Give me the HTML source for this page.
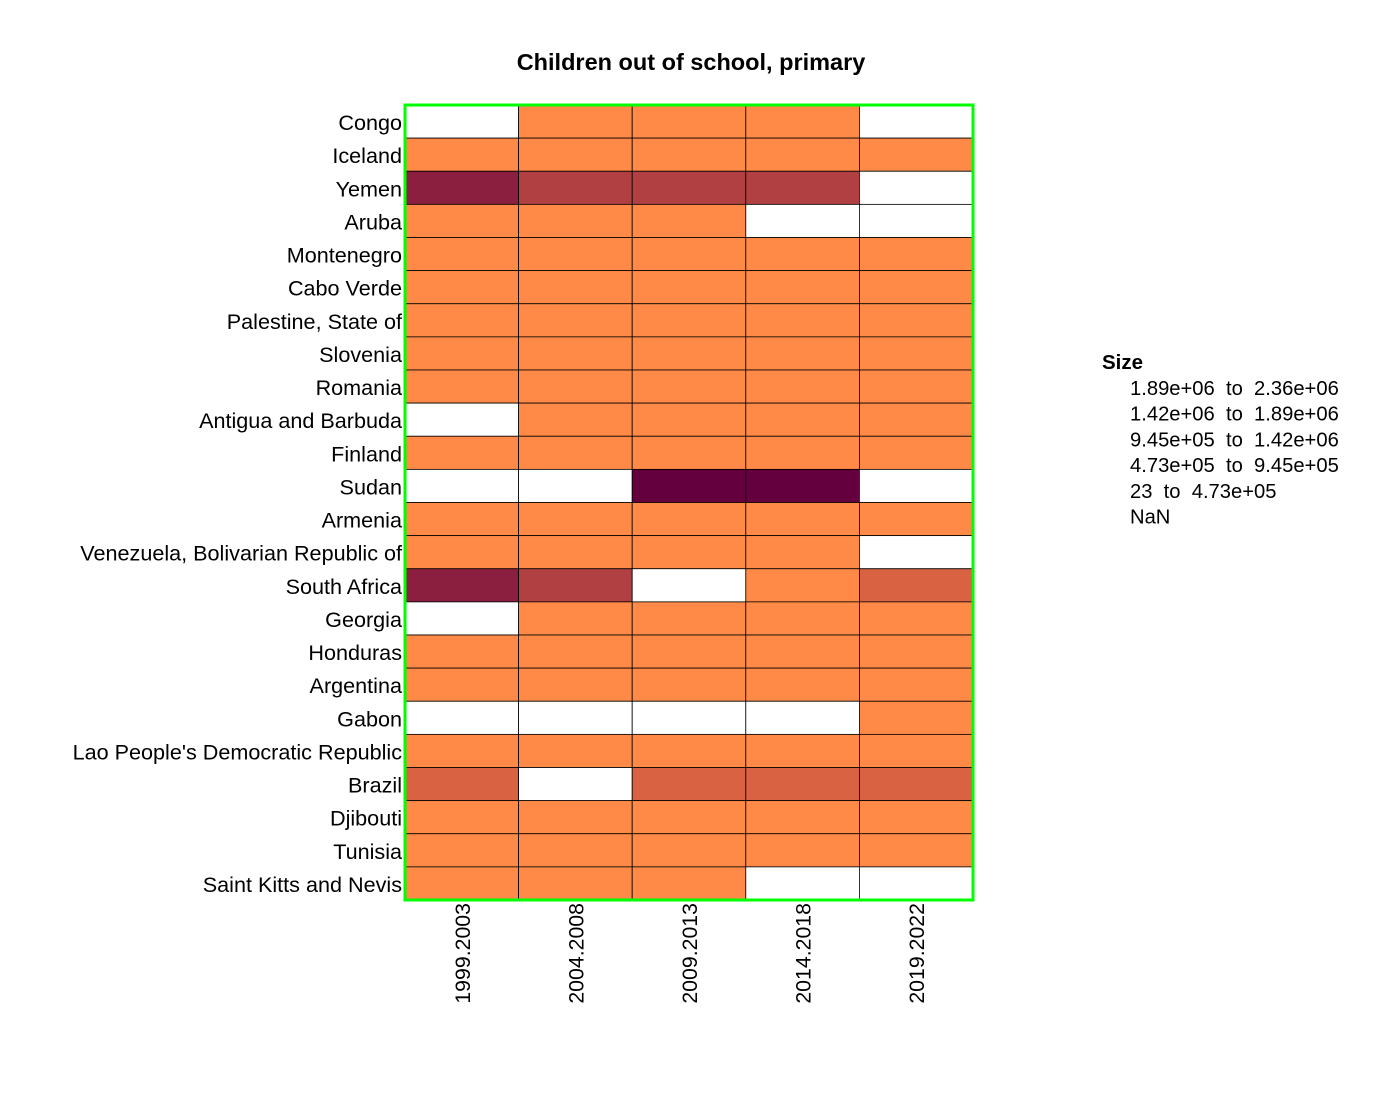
<!DOCTYPE html>
<html><head><meta charset="utf-8"><style>
body{margin:0;background:#fff;}
svg text{font-family:"Liberation Sans",Arial,sans-serif;}
</style></head><body>
<svg id="chart" width="1400" height="1100" xmlns="http://www.w3.org/2000/svg">
<text x="691" y="70" text-anchor="middle" font-size="23.5" font-weight="bold">Children out of school, primary</text>
<g id="cells"></g><g id="ylabels"></g><g id="xlabels"></g>
<rect x="405" y="105" width="568" height="795" fill="none" stroke="#00ff00" stroke-width="3"/>
<g id="legend">
<text x="1102" y="369" font-size="20.5" font-weight="bold">Size</text>
</g>
</svg>
<script>
const countries=["Congo","Iceland","Yemen","Aruba","Montenegro","Cabo Verde","Palestine, State of","Slovenia","Romania","Antigua and Barbuda","Finland","Sudan","Armenia","Venezuela, Bolivarian Republic of","South Africa","Georgia","Honduras","Argentina","Gabon","Lao People's Democratic Republic","Brazil","Djibouti","Tunisia","Saint Kitts and Nevis"];
const periods=["1999.2003","2004.2008","2009.2013","2014.2018","2019.2022"];
const N=NaN;
const values=[
[N,5e4,5e4,5e4,N],
[500,500,500,500,500],
[1.6e6,1.1e6,1.1e6,1.1e6,N],
[300,300,300,N,N],
[2e3,2e3,2e3,2e3,2e3],
[2e3,2e3,2e3,2e3,2e3],
[3e4,3e4,3e4,3e4,3e4],
[1e3,1e3,1e3,1e3,1e3],
[3e4,3e4,3e4,3e4,3e4],
[N,1e3,1e3,1e3,1e3],
[2e3,2e3,2e3,2e3,2e3],
[N,N,2.1e6,2.1e6,N],
[1e4,1e4,1e4,1e4,1e4],
[2e5,2e5,2e5,2e5,N],
[1.6e6,1.1e6,N,2e5,6e5],
[N,1e4,1e4,1e4,1e4],
[1e5,1e5,1e5,1e5,1e5],
[3e4,3e4,3e4,3e4,3e4],
[N,N,N,N,5e4],
[1e5,1e5,1e5,1e5,1e5],
[6e5,N,6e5,6e5,6e5],
[5e4,5e4,5e4,5e4,5e4],
[2e4,2e4,2e4,2e4,2e4],
[100,100,100,N,N]];
const breaks=[23,4.73e5,9.45e5,1.42e6,1.89e6,2.36e6];
const colors=["#ff8a47","#d96243","#b04042","#8a1f40","#64003e"];
const legendLabels=["1.89e+06  to  2.36e+06","1.42e+06  to  1.89e+06","9.45e+05  to  1.42e+06","4.73e+05  to  9.45e+05","23  to  4.73e+05","NaN"];
const X0=405,X1=973,Y0=105,Y1=900;
const cw=(X1-X0)/periods.length,rh=(Y1-Y0)/countries.length;
const xPos=j=>X0+j*cw, yPos=i=>Y0+i*rh;
function colorOf(v){if(isNaN(v))return "#ffffff";for(let k=1;k<breaks.length;k++)if(v<breaks[k])return colors[k-1];return colors[colors.length-1];}
const NS="http://www.w3.org/2000/svg";
const cells=document.getElementById('cells'),yl=document.getElementById('ylabels'),xl=document.getElementById('xlabels'),lg=document.getElementById('legend');
values.forEach((row,i)=>row.forEach((v,j)=>{
 const r=document.createElementNS(NS,'rect');
 r.setAttribute('x',xPos(j));r.setAttribute('y',yPos(i));r.setAttribute('width',cw);r.setAttribute('height',rh);
 r.setAttribute('fill',colorOf(v));r.setAttribute('stroke','#000');r.setAttribute('stroke-width','0.8');
 
 
 cells.appendChild(r);}));
countries.forEach((c,i)=>{
 const t=document.createElementNS(NS,'text');
 t.setAttribute('x',402);t.setAttribute('y',yPos(i)+rh/2+8.5);t.setAttribute('text-anchor','end');t.setAttribute('font-size','21.6');
 t.textContent=c;
 
 
 yl.appendChild(t);});
periods.forEach((p,j)=>{
 const t=document.createElementNS(NS,'text');
 const cx=xPos(j)+cw/2+8,cy=903;
 t.setAttribute('transform',`translate(${cx},${cy}) rotate(-90)`);t.setAttribute('text-anchor','end');t.setAttribute('font-size','21.3');
 t.textContent=p;
 
 
 xl.appendChild(t);});
legendLabels.forEach((l,k)=>{
 const t=document.createElementNS(NS,'text');
 t.setAttribute('x',1130);t.setAttribute('y',395+k*25.7);t.setAttribute('font-size','20.2');t.setAttribute('xml:space','preserve');t.style.whiteSpace='pre';
 t.textContent=l;
 
 
 lg.appendChild(t);});
</script>
</body></html>
